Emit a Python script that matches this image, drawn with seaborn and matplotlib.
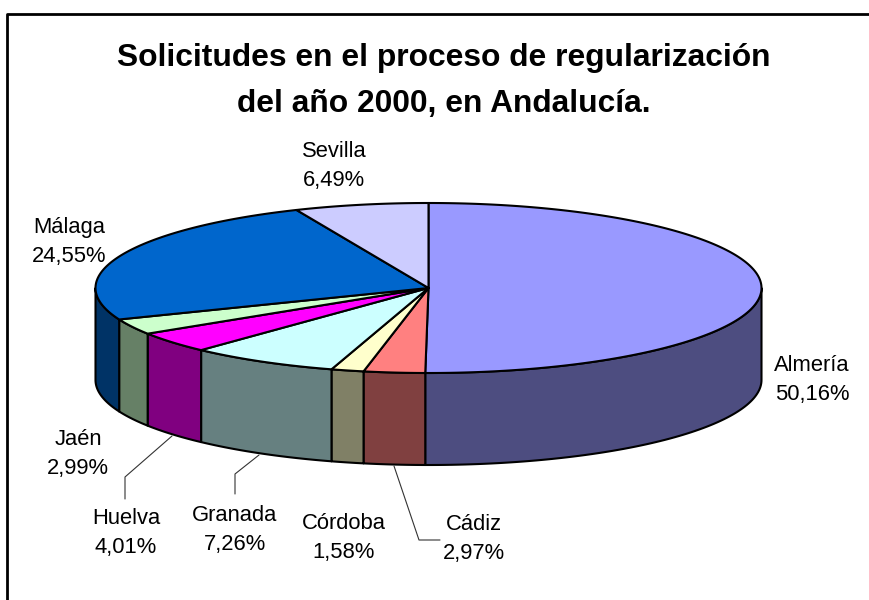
import numpy as np
import matplotlib.pyplot as plt
import seaborn as sns

# Data
provincias = ["Almería", "Cádiz", "Córdoba", "Granada", "Huelva", "Jaén", "Málaga", "Sevilla"]
porcentajes = [50.16, 2.97, 1.58, 7.26, 4.01, 2.99, 24.55, 6.49]
colores_top = ["#9999FF", "#FF8080", "#FFFFCC", "#CCFFFF", "#FF00FF", "#CCFFCC", "#0066CC", "#CCCCFF"]
colores_lado = ["#4D4D80", "#804040", "#808066", "#668080", "#800080", "#668066", "#003366", "#666680"]
etiquetas_xy = [(812, 380), (474, 539), (344, 538), (235, 530), (126, 533), (78, 454), (69, 242), (334, 166)]

sns.set_theme(style="white")
plt.rcParams['font.family'] = ['Liberation Sans', 'DejaVu Sans']

# Pie geometry, in pixels of the picture
cx, cy = 428.5, 288
rx, ry = 333, 85
depth = 92

fig, ax = plt.subplots(figsize=(8.7, 6.0), dpi=100)
ax.set_position([0, 0, 1, 1])
ax.set_xlim(0, 870)
ax.set_ylim(600, 0)
ax.axis("off")

# frame, the right and bottom sides are cut off in the original
ax.plot([870, 7, 7], [14, 14, 600], color="black", lw=2, solid_capstyle="butt", zorder=1)


def borde(t):
    return cx + rx * np.sin(t), cy - ry * np.cos(t)


fracs = np.array(porcentajes) / sum(porcentajes)
limites = np.concatenate([[0], np.cumsum(fracs)]) * 2 * np.pi

# side walls, only the front half of the ellipse can be seen
for i in range(len(provincias)):
    a = max(limites[i], np.pi / 2)
    b = min(limites[i + 1], 3 * np.pi / 2)
    if a >= b:
        continue
    t = np.linspace(a, b, 80)
    x, y = borde(t)
    ax.fill(np.r_[x, x[::-1]], np.r_[y, y[::-1] + depth], facecolor=colores_lado[i],
            edgecolor="black", lw=1.5, joinstyle="round", zorder=2)

# top slices
for i in range(len(provincias)):
    t = np.linspace(limites[i], limites[i + 1], 200)
    x, y = borde(t)
    ax.fill(np.r_[cx, x], np.r_[cy, y], facecolor=colores_top[i],
            edgecolor="black", lw=1.5, joinstyle="round", zorder=3)

# labels
for nombre, valor, (lx, ly) in zip(provincias, porcentajes, etiquetas_xy):
    txt = nombre + "\n" + f"{valor:.2f}".replace(".", ",") + "%"
    ax.text(lx, ly, txt, ha="center", va="center", fontsize=15.8, color="black", linespacing=1.52, zorder=5)

# leader lines
ax.plot([172, 125, 125], [436, 477, 499], color="#333333", lw=0.8, zorder=4)
ax.plot([259, 235, 235], [455, 474, 494], color="#333333", lw=0.8, zorder=4)
ax.plot([394, 419, 440], [466, 540, 540], color="#333333", lw=0.8, zorder=4)

ax.text(444, 81, "Solicitudes en el proceso de regularización\ndel año 2000, en Andalucía.",
        ha="center", va="center", fontsize=22.9, fontweight="bold", color="black", linespacing=1.7, zorder=5)

fig.savefig("out.png", dpi=100)
